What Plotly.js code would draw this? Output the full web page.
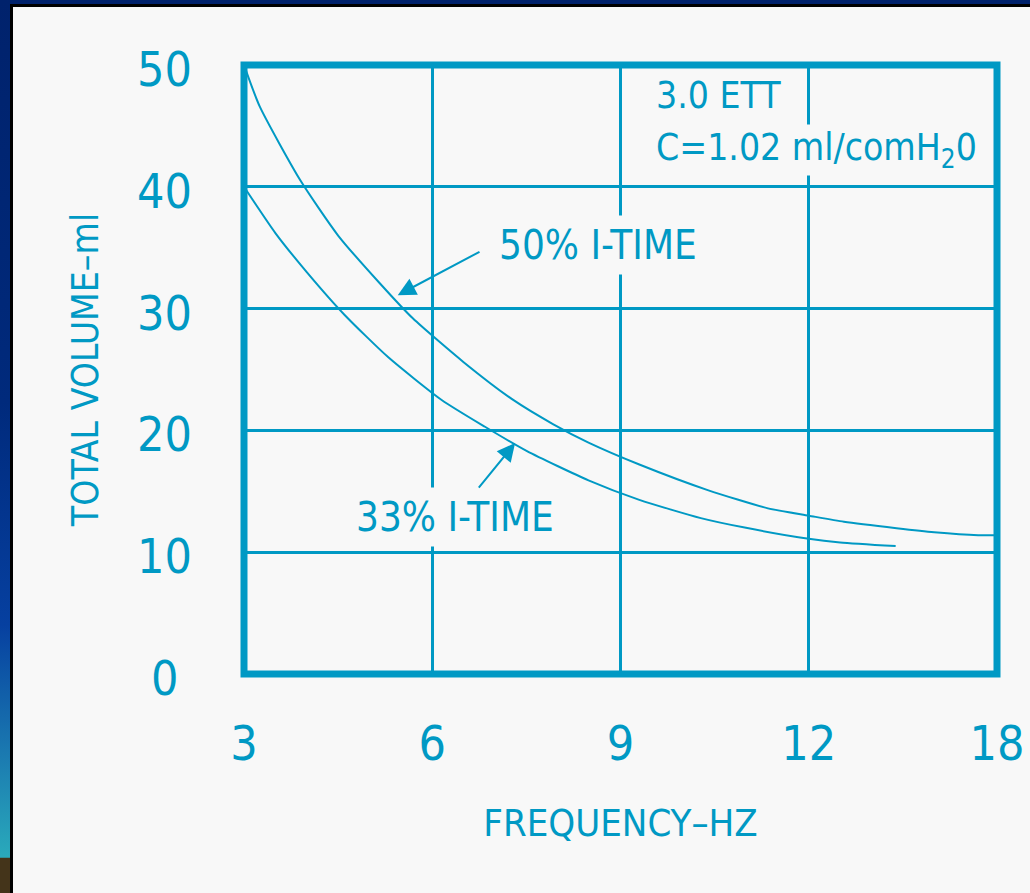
<!DOCTYPE html>
<html>
<head>
<meta charset="utf-8">
<script src="https://cdn.plot.ly/plotly-3.0.1.min.js"></script>
<style>
  html, body { margin: 0; padding: 0; background: #f8f8f8; }
  #wrap { position: relative; width: 1030px; height: 893px; overflow: hidden; }
  #chart { position: absolute; left: 0; top: 0; width: 1030px; height: 893px; }
  .deco { position: absolute; pointer-events: none; }
</style>
</head>
<body>
<div id="wrap">
  <div id="chart"></div>
  <div class="deco" style="left:0;top:0;width:1030px;height:4px;background:#00226c;"></div>
  <div class="deco" style="left:10px;top:4px;width:1020px;height:3px;background:#000;"></div>
  <div class="deco" style="left:0;top:0;width:10px;height:893px;background:linear-gradient(to bottom,#00226c 0%,#002a7c 45%,#0640a0 70%,#1a78b0 84%,#2aaabb 96%,#44341a 96.1%,#44341a 100%);"></div>
  <div class="deco" style="left:10px;top:4px;width:3px;height:889px;background:#000;"></div>
</div>
<script>
// ---- data ----
const freqTicks = [3, 6, 9, 12, 18];
const volTicks = [0, 10, 20, 30, 40, 50];

const freq50 = [3, 3.25, 3.89, 4.5, 5.16, 5.69, 6.5, 7.29, 7.93, 8.49, 9.3, 10.39, 11.35, 12, 13.12, 14.8, 16, 17.4, 18];
const vol50  = [50, 46.6, 40.6, 36.0, 32.1, 29.2, 25.6, 22.5, 20.5, 19.0, 17.2, 15.1, 13.6, 13.0, 12.5, 11.97, 11.64, 11.4, 11.4];

const freq33 = [3, 3.5, 4, 4.6, 5.3, 6.15, 6.84, 7.51, 8.49, 9.3, 10.28, 11, 12, 13, 14.77];
const vol33  = [40, 36.2, 33.0, 29.5, 26.0, 22.5, 20.3, 18.3, 15.9, 14.3, 12.8, 12.0, 11.1, 10.8, 10.5];

// The printed frequency axis is evenly spaced at 3,6,9,12,18: the last interval is compressed 2:1.
function axisPos(f) { return f <= 12 ? f : 12 + (f - 12) / 2; }

const BLUE = '#0099c4';
const FONT = "'DejaVu Sans Condensed', 'Liberation Sans Narrow', 'Arial Narrow', 'DejaVu Sans', sans-serif";

const traces = [
  { x: freq50.map(axisPos), y: vol50, name: '50% I-TIME', mode: 'lines',
    line: { color: BLUE, width: 2, shape: 'spline', smoothing: 0.6 }, hoverinfo: 'skip' },
  { x: freq33.map(axisPos), y: vol33, name: '33% I-TIME', mode: 'lines',
    line: { color: BLUE, width: 2, shape: 'spline', smoothing: 0.6 }, hoverinfo: 'skip' }
];

const annotations = [];
// y tick labels, centred under each other as in the original
volTicks.forEach(v => annotations.push({
  xref: 'paper', yref: 'y', x: -0.106, y: v, yshift: -4, text: String(v), showarrow: false,
  xanchor: 'center', yanchor: 'middle', font: { family: FONT, size: 48, color: BLUE }
}));
// labels
annotations.push(
  { xref: 'paper', yref: 'paper', x: 0.545, y: 0.950, text: '3.0 ETT', showarrow: false,
    xanchor: 'left', yanchor: 'middle', font: { family: FONT, size: 37, color: BLUE } },
  { xref: 'paper', yref: 'paper', x: 0.545, y: 0.861, text: 'C=1.02 ml/comH<sub>2</sub>0', showarrow: false,
    xanchor: 'left', yanchor: 'middle', bgcolor: '#f8f8f8', borderpad: 1, font: { family: FONT, size: 37, color: BLUE } },
  // curve labels with their arrows (tail at the text box, head on the curve)
  { xref: 'x', yref: 'y', axref: 'x', ayref: 'y', x: 5.45, y: 31.1, ax: 6.95, ay: 35.2,
    text: '50% I-TIME', xanchor: 'left', yanchor: 'middle', bgcolor: '#f8f8f8', borderpad: 6,
    showarrow: true, arrowhead: 2, arrowsize: 1.8, arrowwidth: 2, arrowcolor: BLUE, standoff: 0, startstandoff: 14,
    font: { family: FONT, size: 40, color: BLUE } },
  { xref: 'x', yref: 'y', axref: 'x', ayref: 'y', x: 7.32, y: 18.96, ax: 6.36, ay: 12.87,
    text: '33% I-TIME', xanchor: 'center', yanchor: 'middle', bgcolor: '#f8f8f8', borderpad: 6,
    showarrow: true, arrowhead: 2, arrowsize: 1.8, arrowwidth: 2, arrowcolor: BLUE, standoff: 0, startstandoff: 0,
    font: { family: FONT, size: 40, color: BLUE } }
);

const layout = {
  width: 1030, height: 893,
  paper_bgcolor: '#f8f8f8', plot_bgcolor: '#f8f8f8',
  margin: { l: 244, r: 33, t: 65, b: 219, pad: 0 },
  showlegend: false,
  font: { family: FONT, color: BLUE },
  xaxis: {
    range: [3, 15], tickmode: 'array',
    tickvals: freqTicks.map(axisPos), ticktext: freqTicks.map(String),
    showgrid: true, gridcolor: BLUE, gridwidth: 3, zeroline: false, showline: false, ticks: '',
    ticklabelstandoff: 37,
    tickfont: { family: FONT, size: 48, color: BLUE },
    title: { text: 'FREQUENCY\u2013HZ', standoff: 39, font: { family: FONT, size: 38, color: BLUE } },
    automargin: false, fixedrange: true
  },
  yaxis: {
    range: [0, 50], tickmode: 'array', tickvals: volTicks, showticklabels: false,
    showgrid: true, gridcolor: BLUE, gridwidth: 3, zeroline: false, showline: false, ticks: '',
    title: { text: 'TOTAL VOLUME\u2013ml', standoff: 133, font: { family: FONT, size: 37, color: BLUE } },
    automargin: false, fixedrange: true
  },
  shapes: [
    { type: 'rect', xref: 'paper', yref: 'paper', x0: 0, x1: 1, y0: 0, y1: 1,
      line: { color: BLUE, width: 7 }, fillcolor: 'rgba(0,0,0,0)', layer: 'above' }
  ],
  annotations: annotations
};

Plotly.newPlot('chart', traces, layout, { staticPlot: true, displayModeBar: false });
</script>
</body>
</html>
